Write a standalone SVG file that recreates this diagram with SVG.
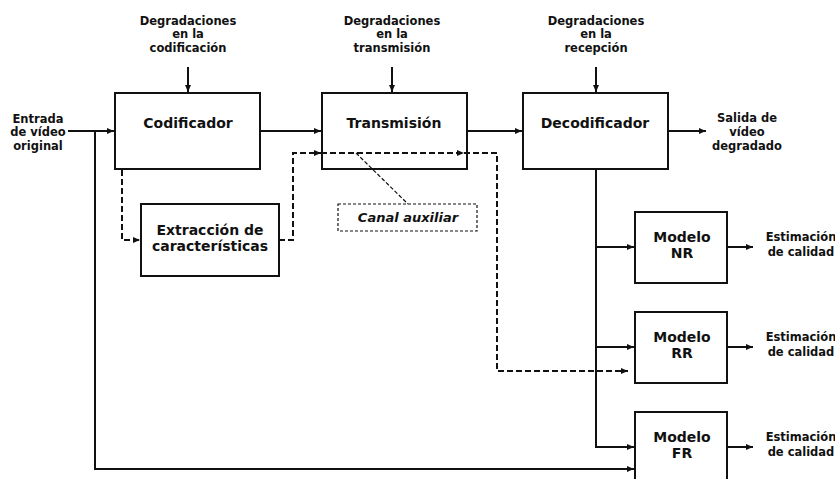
<svg xmlns="http://www.w3.org/2000/svg" width="835" height="479" viewBox="0 0 835 479">
<style>
.box{fill:#fff;stroke:#111;stroke-width:2}
.t{font-family:"DejaVu Sans",Verdana,sans-serif;font-weight:bold;fill:#111;text-anchor:middle}
.s{font-size:11.5px}
.b{font-size:14px}
.ln{fill:none;stroke:#111;stroke-width:2}
.da{fill:none;stroke:#111;stroke-width:2;stroke-dasharray:6,3}
.thin{fill:none;stroke:#111;stroke-width:1.2;stroke-dasharray:4,2}
</style>
<defs>
<marker id="ah" markerWidth="8" markerHeight="8" refX="7" refY="4" orient="auto" markerUnits="userSpaceOnUse"><path d="M0,1 L7,4 L0,7 Z" fill="#111"/></marker>
</defs>
<rect width="835" height="479" fill="#fff"/>
<g id="in-label"><text class="t s"><tspan x="38" y="123">Entrada</tspan><tspan x="38" y="136">de vídeo</tspan><tspan x="38" y="150">original</tspan></text></g>
<g id="deg-cod"><text class="t s"><tspan x="188" y="25">Degradaciones</tspan><tspan x="188" y="38">en la</tspan><tspan x="188" y="52">codificación</tspan></text></g>
<g id="deg-tra"><text class="t s"><tspan x="392" y="25">Degradaciones</tspan><tspan x="392" y="38">en la</tspan><tspan x="392" y="52">transmisión</tspan></text></g>
<g id="deg-rec"><text class="t s"><tspan x="596" y="25">Degradaciones</tspan><tspan x="596" y="38">en la</tspan><tspan x="596" y="52">recepción</tspan></text></g>
<g id="codificador"><rect class="box" x="115" y="93" width="145" height="76"/><text class="t b" x="188" y="128">Codificador</text></g>
<g id="transmision"><rect class="box" x="322" y="93" width="145" height="76"/><text class="t b" x="394" y="128">Transmisión</text></g>
<g id="decodificador"><rect class="box" x="523" y="93" width="145" height="76"/><text class="t b" x="595" y="128">Decodificador</text></g>
<g id="out-label"><text class="t s"><tspan x="747" y="122">Salida de</tspan><tspan x="747" y="136">vídeo</tspan><tspan x="747" y="150">degradado</tspan></text></g>
<g id="extraccion"><rect class="box" x="141" y="204" width="138" height="72"/><text class="t b"><tspan x="210" y="235">Extracción de</tspan><tspan x="210" y="251">características</tspan></text></g>
<g id="canal"><rect x="338" y="204" width="139" height="27" fill="#fff" stroke="#111" stroke-width="1.2" stroke-dasharray="3,2"/><text class="t" style="font-size:13px;font-style:italic" x="408" y="222">Canal auxiliar</text></g>
<g id="nr"><rect class="box" x="635" y="212" width="92" height="71"/><text class="t b"><tspan x="682" y="242">Modelo</tspan><tspan x="682" y="258">NR</tspan></text></g>
<g id="rr"><rect class="box" x="635" y="312" width="92" height="71"/><text class="t b"><tspan x="682" y="342">Modelo</tspan><tspan x="682" y="358">RR</tspan></text></g>
<g id="fr"><rect class="box" x="635" y="412" width="92" height="75"/><text class="t b"><tspan x="682" y="442">Modelo</tspan><tspan x="682" y="458">FR</tspan></text></g>
<g id="est-nr"><text class="t s"><tspan x="801" y="241">Estimación</tspan><tspan x="801" y="256">de calidad</tspan></text></g>
<g id="est-rr"><text class="t s"><tspan x="801" y="341">Estimación</tspan><tspan x="801" y="356">de calidad</tspan></text></g>
<g id="est-fr"><text class="t s"><tspan x="801" y="441">Estimación</tspan><tspan x="801" y="456">de calidad</tspan></text></g>
<g id="connectors">
<path class="ln" d="M68,131 H114" marker-end="url(#ah)"/>
<path class="ln" d="M95,131 V469 H634" marker-end="url(#ah)"/>
<path class="ln" d="M188,67 V92" marker-end="url(#ah)"/>
<path class="ln" d="M392,67 V92" marker-end="url(#ah)"/>
<path class="ln" d="M596,67 V92" marker-end="url(#ah)"/>
<path class="ln" d="M260,131 H321" marker-end="url(#ah)"/>
<path class="ln" d="M467,131 H522" marker-end="url(#ah)"/>
<path class="ln" d="M668,131 H706" marker-end="url(#ah)"/>
<path class="ln" d="M596,169 V447 H634" marker-end="url(#ah)"/>
<path class="ln" d="M596,247 H634" marker-end="url(#ah)"/>
<path class="ln" d="M596,347 H634" marker-end="url(#ah)"/>
<path class="ln" d="M727,247 H753" marker-end="url(#ah)"/>
<path class="ln" d="M727,347 H753" marker-end="url(#ah)"/>
<path class="ln" d="M727,447 H753" marker-end="url(#ah)"/>
<path class="da" d="M122,170 V240 H140" marker-end="url(#ah)"/>
<path class="da" d="M279,240 H293 V153 H321" marker-end="url(#ah)"/>
<path class="da" d="M321,153 H464" marker-end="url(#ah)"/>
<path class="da" d="M464,153 H497 V371 H628" marker-end="url(#ah)"/>
<path class="thin" d="M356,153 L408,204"/>
</g>
</svg>
